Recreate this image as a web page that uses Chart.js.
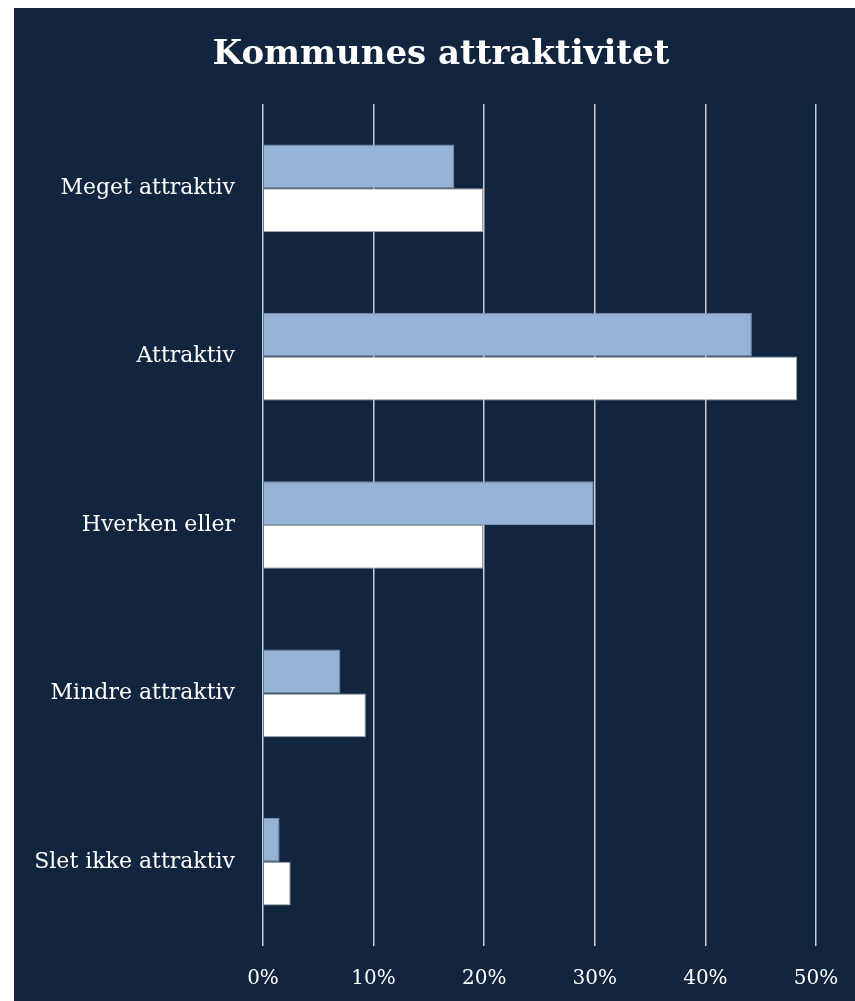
<!DOCTYPE html>
<html>
<head>
<meta charset="utf-8">
<script src="https://cdn.jsdelivr.net/npm/chart.js@4/dist/chart.umd.min.js"></script>
<style>
  html, body { margin: 0; padding: 0; background: #ffffff; }
  #wrap { position: absolute; left: 14px; top: 8px; width: 841px; height: 993px; background: #12253f; }
  #wrap canvas { position: absolute; left: 0; top: 0; }
  #title {
    position: absolute; left: 0; top: 24px; width: 854px; text-align: center;
    font-family: 'DejaVu Serif', 'Liberation Serif', serif; font-weight: bold; font-size: 34px;
    line-height: 40px; color: #ffffff;
  }
</style>
</head>
<body>
<div id="wrap">
  <canvas id="chart" width="841" height="993"></canvas>
  <div id="title">Kommunes attraktivitet</div>
</div>
<script>
// attractiveness survey, two groups of answers per category
const categories = ["Meget attraktiv", "Attraktiv", "Hverken eller", "Mindre attraktiv", "Slet ikke attraktiv"];
const seriesBlue = [17.3, 44.2, 29.9, 7.0, 1.5];
const seriesWhite = [19.9, 48.3, 19.9, 9.3, 2.5];
const xTicks = [0, 10, 20, 30, 40, 50];

const serif = "'DejaVu Serif', 'Liberation Serif', serif";

const ctx = document.getElementById("chart").getContext("2d");
new Chart(ctx, {
  type: "bar",
  data: {
    labels: categories,
    datasets: [
      { data: seriesBlue, backgroundColor: "#95b3d7", borderColor: "#7f93ad", borderWidth: 1, borderSkipped: "start" },
      { data: seriesWhite, backgroundColor: "#ffffff", borderColor: "#9aa3ae", borderWidth: 1, borderSkipped: "start" }
    ]
  },
  options: {
    indexAxis: "y",
    responsive: false,
    animation: false,
    layout: { padding: { left: 0, right: 39, top: 96, bottom: 0 } },
    datasets: { bar: { categoryPercentage: 0.52, barPercentage: 1.0 } },
    plugins: {
      legend: { display: false },
      tooltip: { enabled: false },
      title: { display: false }
    },
    scales: {
      x: {
        min: 0,
        max: 50,
        afterBuildTicks: s => { s.ticks = xTicks.map(v => ({ value: v })); },
        afterFit: s => { s.height = 55; s.paddingLeft = 0; s.paddingRight = 0; },
        grid: { color: "#c9ccd1", lineWidth: 1.5, drawTicks: false },
        border: { display: false },
        ticks: {
          color: "#ffffff",
          padding: 21,
          font: { family: serif, size: 20 },
          callback: v => v + "%"
        }
      },
      y: {
        afterFit: s => { s.width = 249; },
        grid: { display: false },
        border: { display: false },
        ticks: {
          color: "#ffffff",
          padding: 20,
          font: { family: serif, size: 22 }
        }
      }
    }
  }
});
</script>
</body>
</html>
